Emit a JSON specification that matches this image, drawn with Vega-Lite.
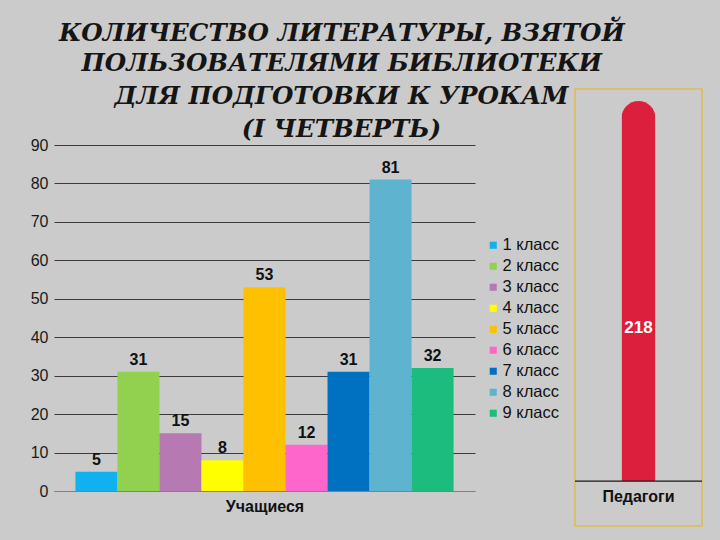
{
  "$schema": "https://vega.github.io/schema/vega-lite/v6.json",
  "background": "#cbcbcb",
  "padding": {"left": 30, "top": 20, "right": 18, "bottom": 15},
  "title": {
    "text": ["КОЛИЧЕСТВО ЛИТЕРАТУРЫ, ВЗЯТОЙ", "ПОЛЬЗОВАТЕЛЯМИ БИБЛИОТЕКИ"],
    "font": "DejaVu Serif", "fontSize": 24.6, "fontStyle": "italic", "fontWeight": "bold",
    "color": "#151515", "lineHeight": 30, "anchor": "middle", "dx": -25, "offset": 8
  },
  "datasets": {
    "students": [
      {"class": "1 класс", "count": 5},
      {"class": "2 класс", "count": 31},
      {"class": "3 класс", "count": 15},
      {"class": "4 класс", "count": 8},
      {"class": "5 класс", "count": 53},
      {"class": "6 класс", "count": 12},
      {"class": "7 класс", "count": 31},
      {"class": "8 класс", "count": 81},
      {"class": "9 класс", "count": 32}
    ],
    "teachers": [
      {"group": "Педагоги", "value": 218}
    ]
  },
  "spacing": 4,
  "resolve": {"scale": {"color": "independent"}, "legend": {"color": "independent"}},
  "hconcat": [
    {
      "width": 421,
      "height": 402,
      "view": {"stroke": null},
      "title": {
        "text": ["ДЛЯ ПОДГОТОВКИ К УРОКАМ", "(I ЧЕТВЕРТЬ)"],
        "font": "DejaVu Serif", "fontSize": 24.6, "fontStyle": "italic", "fontWeight": "bold",
        "color": "#151515", "lineHeight": 33, "anchor": "middle", "frame": "group", "dx": 77, "offset": -54
      },
      "data": {"name": "students"},
      "encoding": {
        "x": {
          "field": "class", "type": "nominal", "sort": null,
          "scale": {"paddingInner": 0, "paddingOuter": 0.51},
          "axis": {
            "labels": false, "ticks": false, "grid": false, "title": "Учащиеся",
            "domainColor": "#808080", "titleFont": "Liberation Sans", "titleFontSize": 16,
            "titleFontWeight": "bold", "titleColor": "#111", "titlePadding": 7
          }
        },
        "y": {
          "field": "count", "type": "quantitative",
          "scale": {"domain": [0, 104.57], "nice": false},
          "axis": {
            "values": [0, 10, 20, 30, 40, 50, 60, 70, 80, 90], "title": null, "domain": false,
            "ticks": false, "grid": true,
            "gridColor": {"condition": {"test": "datum.value === 0", "value": "#8a8a8a"}, "value": "#3c3c3c"},
            "gridWidth": 1.2, "labelPadding": 6, "labelFont": "Liberation Sans",
            "labelFontSize": 16, "labelColor": "#1a1a1a"
          }
        }
      },
      "layer": [
        {
          "mark": {"type": "bar"},
          "encoding": {
            "color": {
              "field": "class", "type": "nominal", "sort": null,
              "scale": {
                "domain": ["1 класс", "2 класс", "3 класс", "4 класс", "5 класс", "6 класс", "7 класс", "8 класс", "9 класс"],
                "range": ["#10b1ee", "#92d050", "#b679b1", "#ffff00", "#ffc000", "#ff66cc", "#0070c0", "#5eb3cf", "#1cbc7e"]
              },
              "legend": {
                "title": null, "orient": "none", "legendX": 431, "legendY": 148,
                "labelFont": "Liberation Sans", "labelFontSize": 16.5, "labelColor": "#111",
                "symbolType": "square", "symbolSize": 50, "symbolStrokeWidth": 0,
                "rowPadding": 4, "labelOffset": 1
              }
            }
          }
        },
        {
          "mark": {"type": "text", "baseline": "bottom", "dy": -4, "font": "Liberation Sans", "fontSize": 16, "fontWeight": "bold", "color": "#111"},
          "encoding": {"text": {"field": "count", "type": "quantitative"}}
        }
      ]
    },
    {
      "width": 127,
      "height": 437,
      "view": {"stroke": "#e0bd4f", "strokeWidth": 1.5},
      "data": {"name": "teachers"},
      "layer": [
        {
          "mark": {"type": "bar", "width": 34, "color": "#dc1f3c", "cornerRadiusTopLeft": 17, "cornerRadiusTopRight": 17},
          "encoding": {
            "x": {"field": "group", "type": "nominal", "scale": {"paddingInner": 0, "paddingOuter": 0}, "axis": null},
            "y": {"field": "value", "type": "quantitative", "scale": {"domain": [-25.8, 224.9], "nice": false, "zero": false}, "axis": null}
          }
        },
        {
          "mark": {"type": "rule", "color": "#1a1a1a", "strokeWidth": 1.2},
          "encoding": {"y": {"datum": 0}}
        },
        {
          "mark": {"type": "text", "color": "white", "font": "Liberation Sans", "fontSize": 17, "fontWeight": "bold"},
          "encoding": {
            "x": {"field": "group", "type": "nominal"},
            "y": {"datum": 88},
            "text": {"field": "value", "type": "quantitative"}
          }
        },
        {
          "mark": {"type": "text", "color": "#111", "font": "Liberation Sans", "fontSize": 16, "fontWeight": "bold"},
          "encoding": {
            "x": {"field": "group", "type": "nominal"},
            "y": {"datum": -9},
            "text": {"field": "group", "type": "nominal"}
          }
        }
      ]
    }
  ]
}
